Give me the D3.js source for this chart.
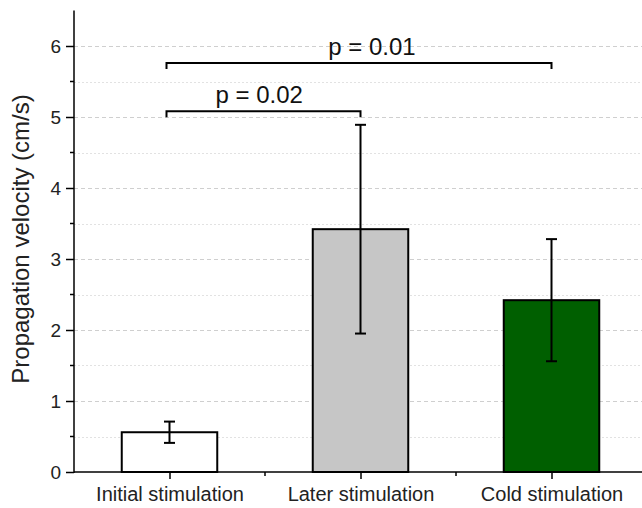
<!DOCTYPE html>
<html><head><meta charset="utf-8">
<script src="https://cdn.jsdelivr.net/npm/d3@7"></script>
<style>body{margin:0;background:#fff}svg{display:block}text{font-family:"Liberation Sans",Arial,sans-serif}</style>
</head><body>
<svg id="c" width="642" height="508"></svg>
<script>
const categories = ["Initial stimulation", "Later stimulation", "Cold stimulation"];
const means = [0.56, 3.42, 2.42];
const errors = [0.15, 1.47, 0.86];
const colors = ["#ffffff", "#c6c6c6", "#005f00"];
const yTicks = [0, 1, 2, 3, 4, 5, 6];
const brackets = [
  {from: 0, to: 1, y: 5.08, label: "p = 0.02", textX: 1.47},
  {from: 0, to: 2, y: 5.76, label: "p = 0.01", textX: 2.06}
];

const svg = d3.select("#c");
const x0 = 74, yb = 472;
const x = d3.scaleLinear().domain([0.5, 3.5]).range([x0, x0 + 3 * 191]);
const y = d3.scaleLinear().domain([0, 6.5]).range([yb, yb - 6.5 * 71]);

// gridlines
const minor = d3.range(0.5, 6.01, 0.5);
svg.append("g").selectAll("line").data(minor).join("line")
  .attr("x1", x0).attr("x2", 642)
  .attr("y1", d => Math.round(y(d)) + 0.5).attr("y2", d => Math.round(y(d)) + 0.5)
  .attr("stroke", d => Number.isInteger(d) ? "#cfcfcf" : "#e2e2e2")
  .attr("stroke-width", 1)
  .attr("stroke-dasharray", d => Number.isInteger(d) ? "4,3" : "2,2");

// bars
const bw = 0.5;
svg.append("g").selectAll("rect").data(means).join("rect")
  .attr("x", (d, i) => x(i + 1 - bw / 2)).attr("width", x(bw) - x(0))
  .attr("y", d => y(d)).attr("height", d => y(0) - y(d))
  .attr("fill", (d, i) => colors[i]).attr("stroke", "#000").attr("stroke-width", 2);

// error bars
const eb = svg.append("g").attr("stroke", "#000").attr("stroke-width", 2);
means.forEach((m, i) => {
  const cx = x(i + 1);
  eb.append("line").attr("x1", cx).attr("x2", cx).attr("y1", y(m - errors[i])).attr("y2", y(m + errors[i]));
  [m - errors[i], m + errors[i]].forEach(v => {
    eb.append("line").attr("x1", cx - 5.5).attr("x2", cx + 5.5).attr("y1", y(v)).attr("y2", y(v));
  });
});

// y axis
const yAxis = svg.append("g").attr("transform", `translate(${x0},0)`)
  .call(d3.axisLeft(y).tickValues(yTicks).tickSize(8).tickPadding(5).tickFormat(d3.format("d")));
yAxis.select(".domain").remove();
yAxis.selectAll(".tick line").attr("stroke-width", 1.5);
yAxis.selectAll("text").attr("font-size", 19).attr("fill", "#222");
yAxis.append("g").selectAll("line").data(minor.filter(d => !Number.isInteger(d))).join("line")
  .attr("x1", -4).attr("x2", 0).attr("y1", d => y(d)).attr("y2", d => y(d)).attr("stroke", "#000").attr("stroke-width", 1.5);
svg.append("line").attr("x1", x0).attr("x2", x0).attr("y1", y(6.5)).attr("y2", yb + 1)
  .attr("stroke", "#000").attr("stroke-width", 1.5);

// x axis
const xAxis = svg.append("g").attr("transform", `translate(0,${yb})`)
  .call(d3.axisBottom(x).tickValues([1, 2, 3]).tickSize(7).tickPadding(8).tickFormat((d, i) => categories[i]));
xAxis.select(".domain").remove();
xAxis.selectAll(".tick line").attr("stroke-width", 1.5);
xAxis.selectAll("text").attr("font-size", 20).attr("fill", "#222");
xAxis.append("g").selectAll("line").data([1.5, 2.5]).join("line")
  .attr("x1", d => x(d)).attr("x2", d => x(d)).attr("y1", 0).attr("y2", 4).attr("stroke", "#000").attr("stroke-width", 1.5);
svg.append("line").attr("x1", x0).attr("x2", 642).attr("y1", yb).attr("y2", yb)
  .attr("stroke", "#000").attr("stroke-width", 1.5);

// y label
svg.append("text").attr("transform", `translate(29,239) rotate(-90)`)
  .attr("text-anchor", "middle").attr("font-size", 24).attr("fill", "#222")
  .text("Propagation velocity (cm/s)");

// brackets
const bg = svg.append("g");
brackets.forEach(b => {
  const xa = x(b.from + 1) - 3, xb = x(b.to + 1), yy = y(b.y);
  bg.append("path").attr("d", `M${xa},${yy + 6}V${yy}H${xb}V${yy + 6}`)
    .attr("fill", "none").attr("stroke", "#000").attr("stroke-width", 2);
  bg.append("text").attr("x", x(b.textX)).attr("y", yy - 8).attr("text-anchor", "middle")
    .attr("font-size", 24).attr("fill", "#111").text(b.label);
});
</script>
</body></html>
